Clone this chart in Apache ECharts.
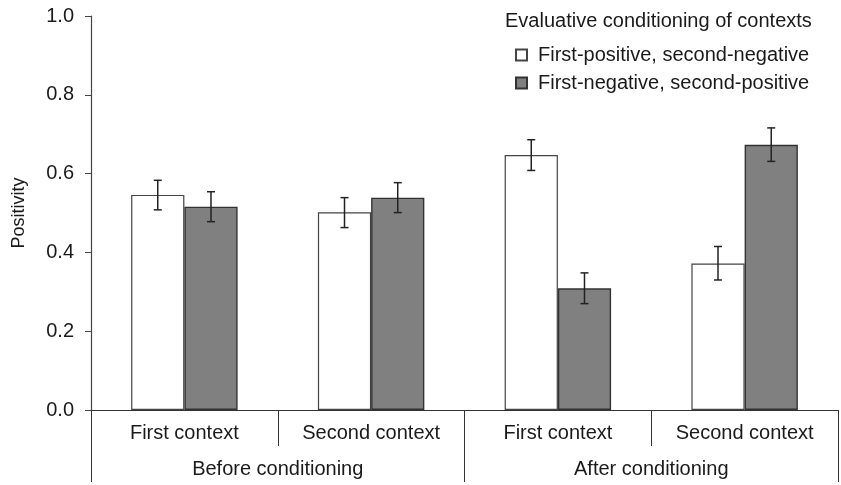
<!DOCTYPE html>
<html>
<head>
<meta charset="utf-8">
<script src="https://cdn.jsdelivr.net/npm/echarts@6/dist/echarts.min.js"></script>
<style>html,body{margin:0;padding:0;background:#fff}#c{width:841px;height:485px}</style>
</head>
<body>
<div id="c"></div>
<script>
const contexts = ['First context', 'Second context', 'First context', 'Second context'];
const phases = ['Before conditioning', 'After conditioning'];
const seriesNames = ['First-positive, second-negative', 'First-negative, second-positive'];
const firstPosValues = [0.546, 0.502, 0.647, 0.372];
const firstPosLow = [0.508, 0.463, 0.608, 0.330];
const firstPosHigh = [0.583, 0.539, 0.686, 0.415];
const firstNegValues = [0.516, 0.539, 0.309, 0.673];
const firstNegLow = [0.478, 0.501, 0.270, 0.631];
const firstNegHigh = [0.554, 0.577, 0.348, 0.716];
const yTicks = [0, 0.2, 0.4, 0.6, 0.8, 1.0];
const legendTitle = 'Evaluative conditioning of contexts';
const yName = 'Positivity';

const FONT = '"Liberation Sans", Arial, sans-serif';
const GAP = 0.43;

function errSeries(low, high, side) {
  return {
    type: 'custom',
    xAxisIndex: 0,
    yAxisIndex: 0,
    z: 10,
    silent: true,
    data: low.map((l, i) => [i, l, high[i]]),
    encode: { x: 0, y: [1, 2] },
    renderItem: function (params, api) {
      const band = api.size([1, 0])[0];
      const bw = band * (1 - GAP) / 2;
      const c = api.coord([api.value(0), api.value(1)]);
      const h = api.coord([api.value(0), api.value(2)]);
      const x = c[0] + side * bw / 2;
      const cap = 4;
      const st = { stroke: '#222', lineWidth: 1.5 };
      return {
        type: 'group',
        children: [
          { type: 'line', shape: { x1: x, y1: c[1], x2: x, y2: h[1] }, style: st },
          { type: 'line', shape: { x1: x - cap, y1: c[1], x2: x + cap, y2: c[1] }, style: st },
          { type: 'line', shape: { x1: x - cap, y1: h[1], x2: x + cap, y2: h[1] }, style: st }
        ]
      };
    }
  };
}

const chart = echarts.init(document.getElementById('c'), null, { renderer: 'canvas' });
chart.setOption({
  animation: false,
  backgroundColor: '#fff',
  textStyle: { fontFamily: FONT, color: '#1a1a1a' },
  title: {
    text: legendTitle,
    left: 505, top: 11, padding: 0,
    textStyle: { fontFamily: FONT, fontSize: 20, fontWeight: 'normal', color: '#1a1a1a' }
  },
  legend: {
    orient: 'vertical',
    left: 515, top: 45, padding: 0,
    itemWidth: 11, itemHeight: 11,
    itemGap: 8,
    icon: 'rect',
    data: seriesNames,
    textStyle: { fontFamily: FONT, fontSize: 20, color: '#1a1a1a', padding: [0, 0, 0, 6] }
  },
  grid: { left: 91, right: 3, top: 16, bottom: 75, containLabel: false },
  xAxis: [
    {
      type: 'category',
      data: contexts,
      position: 'bottom',
      axisLine: { show: true, lineStyle: { color: '#333', width: 1.2 } },
      axisTick: { show: true, length: 36, lineStyle: { color: '#333' } },
      axisLabel: { fontFamily: FONT, fontSize: 20, color: '#1a1a1a', margin: 13, interval: 0 }
    },
    {
      type: 'category',
      data: phases,
      position: 'bottom',
      axisLine: { show: false },
      axisTick: { show: true, length: 72, lineStyle: { color: '#333' } },
      axisLabel: { fontFamily: FONT, fontSize: 20, color: '#1a1a1a', margin: 49, interval: 0 }
    }
  ],
  yAxis: {
    type: 'value',
    min: 0, max: 1, interval: 0.2,
    name: yName,
    nameLocation: 'middle',
    nameGap: 63,
    nameTextStyle: { fontFamily: FONT, fontSize: 18, color: '#1a1a1a' },
    axisLine: { show: true, lineStyle: { color: '#444', width: 1.2 } },
    axisTick: { show: true, length: 6, lineStyle: { color: '#444' } },
    splitLine: { show: false },
    axisLabel: {
      fontFamily: FONT, fontSize: 20, color: '#1a1a1a', margin: 17,
      formatter: v => (yTicks.indexOf(Math.round(v * 10) / 10) >= 0 ? v.toFixed(1) : '')
    }
  },
  series: [
    {
      name: seriesNames[0], type: 'bar', data: firstPosValues,
      barGap: '0%', barCategoryGap: (GAP * 100) + '%',
      itemStyle: { color: '#ffffff', borderColor: '#444', borderWidth: 1.2 }
    },
    {
      name: seriesNames[1], type: 'bar', data: firstNegValues,
      barGap: '0%', barCategoryGap: (GAP * 100) + '%',
      itemStyle: { color: '#808080', borderColor: '#333', borderWidth: 1.4 }
    },
    errSeries(firstPosLow, firstPosHigh, -1),
    errSeries(firstNegLow, firstNegHigh, 1)
  ]
});
</script>
</body>
</html>
